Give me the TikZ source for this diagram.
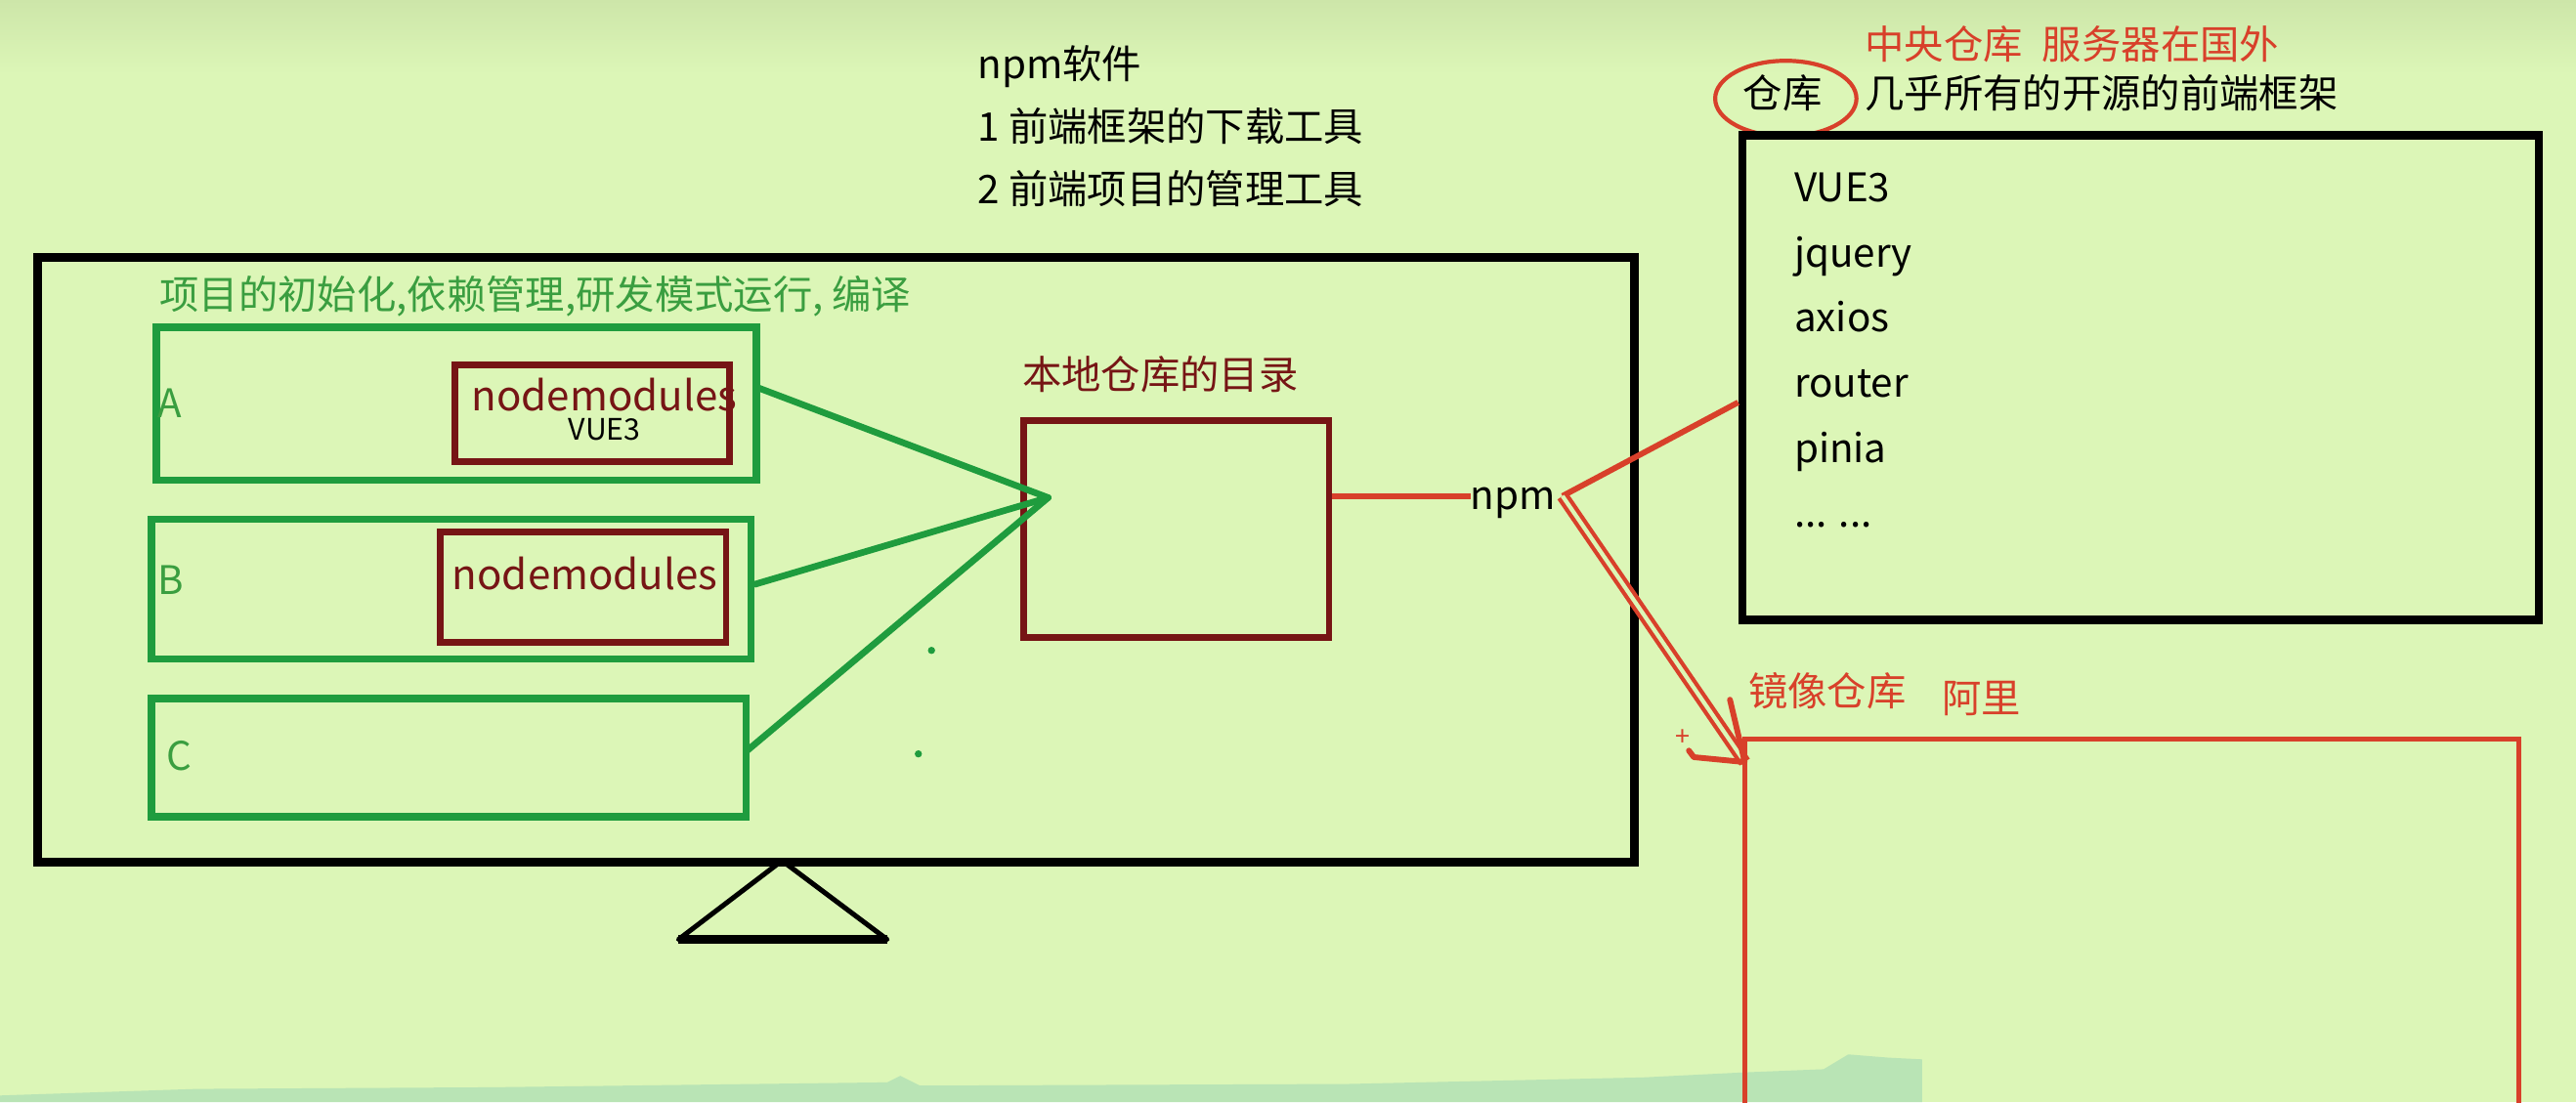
\documentclass[tikz,border=0pt]{standalone}
\usepackage{fontspec}
\setmainfont{Noto Sans CJK SC}
\usetikzlibrary{positioning,calc}
\definecolor{paper}{HTML}{DCF6B7}
\definecolor{papertop}{HTML}{CDE6A9}
\definecolor{strip}{HTML}{B9E4B5}
\definecolor{boxgreen}{HTML}{1F9C3E}
\definecolor{txtgreen}{HTML}{3A9E40}
\definecolor{darkred}{HTML}{761515}
\definecolor{npmred}{HTML}{D8402A}
\begin{document}
\begin{tikzpicture}[x=1pt,y=-1pt,node distance=39.6pt,
        txt/.style={inner sep=0pt,anchor=west,text height=17pt,text depth=5pt,font=\fontsize{24}{28}\selectfont},
        gbox/.style={draw=boxgreen,line width=4.5pt,anchor=north west,inner sep=0pt},
        rbox/.style={draw=darkred,line width=4pt,anchor=north west,inner sep=0pt},
        redline/.style={draw=npmred,line width=3.5pt}]

    \useasboundingbox (0,0) rectangle (1568,671);
    \clip (0,0) rectangle (1568,671);
    \fill[paper] (0,0) rectangle (1568,671);
    \shade[top color=papertop,bottom color=paper] (0,0) rectangle (1568,45);
    \fill[strip] (0,671) -- (0,667) -- (120,663) -- (300,662) -- (540,659) -- (548,655)
        -- (560,661) -- (820,660) -- (1000,656) -- (1060,653) -- (1110,651) -- (1125,642)
        -- (1150,644) -- (1170,645) -- (1170,671) -- cycle;

    % npm
    \node[txt] (t0) at (595,42) {npm软件};
    \node[txt] (t1) at (595,80) {1 前端框架的下载工具};
    \node[txt] (t2) at (595,118) {2 前端项目的管理工具};

    % computer
    \node[draw,line width=5.5pt,anchor=north west,minimum width=972pt,minimum height=368pt] (pc) at (20,154) {};
    \coordinate (foot) at (476,524);
    \draw[line width=3pt,line join=round] (foot) -- (413,572) -- (540,572) -- cycle;
    \draw[line width=5pt] (413,572) -- (540,572);

    \node[txt,text=txtgreen] (task) at (97,182) {项目的初始化,依赖管理,研发模式运行, 编译};

    \node[gbox,minimum width=365pt,minimum height=93pt] (A) at (93,197) {};
    \node[gbox,minimum width=365pt,minimum height=85pt] (B) at (90,314) {};
    \node[gbox,minimum width=362pt,minimum height=72pt] (C) at (90,423) {};
    \node[txt,text=txtgreen] (la) at (96,248) {A};
    \node[txt,text=txtgreen] (lb) at (96,356) {B};
    \node[txt,text=txtgreen] (lc) at (101,463) {C};

    \node[rbox,minimum width=167pt,minimum height=59pt] (nmA) at (275,220) {};
    \node[txt,text=darkred,font=\fontsize{25}{28}\selectfont] (nmAt) at (287,244) {nodemodules};
    \node[txt,anchor=center,text height=13pt,text depth=3pt,font=\fontsize{18}{20}\selectfont] (vueA) at (368,263) {VUE3};
    \node[rbox,minimum width=174pt,minimum height=67pt] (nmB) at (266,322) {};
    \node[txt,text=darkred,anchor=center,font=\fontsize{25}{28}\selectfont] (nmBt) at (356,353) {nodemodules};

    % local repository
    \node[txt,text=darkred] (ll) at (622,231) {本地仓库的目录};
    \node[rbox,minimum width=186pt,minimum height=132pt] (local) at (621,254) {};
    \coordinate (hub) at (638,303);

    \path[draw=boxgreen,line width=4pt,line cap=round]
    ($(A.east)+(-2,-10)$) edge (hub)
    ($(B.east)+(0,-3)$) edge (hub)
    ($(C.east)+(-2,-4)$) edge (hub);
    \fill[boxgreen] (567,396) circle (2.2);
    \fill[boxgreen] (559,459) circle (2.2);

    \node[txt,anchor=center] (npm) at (921,304) {npm};
    \coordinate (fork) at ($(npm.east)+(4,-2)$);

    % central repository
    \node[txt,text=npmred] (cl) at (1135,30) {中央仓库\hspace{0.5em}服务器在国外};
    \node[txt,anchor=center] (repo) at (1085,60) {仓库};
    \draw[npmred,line width=2.5pt] (1087,60) ellipse [x radius=43, y radius=23];
    \node[txt] (all) at (1135,60) {几乎所有的开源的前端框架};
    \node[draw,line width=5pt,anchor=north west,minimum width=485pt,minimum height=295pt] (central) at (1058,80) {};
    \node[txt] (vue) at (1092,117) {VUE3};
    \node[txt] (jq) [below=of vue.west,anchor=west] {jquery};
    \node[txt] (ax) [below=of jq.west,anchor=west] {axios};
    \node[txt] (rt) [below=of ax.west,anchor=west] {router};
    \node[txt] (pn) [below=of rt.west,anchor=west] {pinia};
    \node[txt] (more) [below=of pn.west,anchor=west] {... ...};

    % mirror
    \node[txt,text=npmred] (ml) at (1064,424) {镜像仓库};
    \node[txt,text=npmred] (ali) at (1182,428) {阿里};
    \coordinate (tip) at (1062,464);
    \draw[npmred,line width=3pt] (1062,680) -- (1062,450) -- (1533,450) -- (1533,680);

    \draw[redline] (local.east |- fork) -- (npm.west |- fork);
    \draw[redline] (fork) -- ($(central.west)+(0,15)$);
    \draw[npmred,line width=2.5pt,double=paper,double distance=2.5pt] (fork) -- (tip);
    \draw[redline,line cap=round,line join=round] (1053,426) -- (tip) -- (1031,461) -- (1028,457);
    \node[text=npmred,font=\fontsize{16}{16}\selectfont,inner sep=0pt] (plus) at (1024,449) {+};
\end{tikzpicture}
\end{document}
